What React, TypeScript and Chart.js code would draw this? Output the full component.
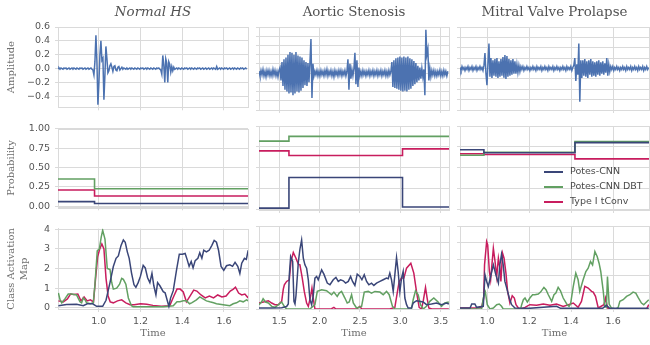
import React, { useEffect, useRef } from 'react';
import { Chart, registerables } from 'chart.js';

Chart.register(...registerables);

// ---------------- text ----------------
const PANEL_TITLES = ['Normal HS', 'Aortic Stenosis', 'Mitral Valve Prolapse'];
const ROW_LABELS: string[][] = [['Amplitude'], ['Probability'], ['Class Activation', 'Map']];
const SERIES_NAMES = ['Potes-CNN', 'Potes-CNN DBT', 'Type I tConv'];
const X_LABEL = 'Time';

// ---------------- axis ranges / ticks ----------------
const TIME_RANGE_NORMAL = [0.805, 1.715];
const TIME_RANGE_AORTIC = [1.249, 3.603];
const TIME_RANGE_MITRAL = [0.87, 1.771];
const TIME_TICKS_NORMAL = [1.0, 1.2, 1.4, 1.6];
const TIME_TICKS_AORTIC = [1.5, 2.0, 2.5, 3.0, 3.5];
const TIME_TICKS_MITRAL = [1.0, 1.2, 1.4, 1.6];

const AMP_RANGE_NORMAL = [-0.558, 0.6];
const AMP_RANGE_AORTIC = [-0.4, 0.5];
const AMP_RANGE_MITRAL = [-0.4, 0.4];
const AMP_TICKS_NORMAL = [-0.4, -0.2, 0, 0.2, 0.4, 0.6];
const AMP_TICKS_AORTIC = [-0.4, -0.3, -0.2, -0.1, 0, 0.1, 0.2, 0.3, 0.4, 0.5];
const AMP_TICKS_MITRAL = [-0.4, -0.3, -0.2, -0.1, 0, 0.1, 0.2, 0.3, 0.4];

const PROB_RANGE = [-0.012, 1.0];
const PROB_TICKS = [0, 0.25, 0.5, 0.75, 1.0];

const CAM_RANGE_NORMAL = [-0.065, 4.03];
const CAM_RANGE_OTHER = [0, 5];
const CAM_TICKS_NORMAL = [0, 1, 2, 3, 4];
const CAM_TICKS_OTHER = [0, 1, 2, 3, 4, 5];

// ---------------- waveforms (amplitude in hundredths, uniform sampling) ----------------
const NORMAL_T0 = 0.805;
const NORMAL_DT = 0.00478;
const NORMAL_AMP = [
  0, 1, -1, 1, 0, -1, 1, 0, 1, -1, 0, 1, -1, 0, 1, -1, 1, 0, -1, 1, 0, -1, 1, 0, 1, -1, 0, 1, -1, 0, 1, -1, 0, 1, -1,
  -2, -9, 10, 48, 10, -52, -20, 20, 40, 12, 15, -45, -10, 32, 15, -6, -3, 4, 7, 2, -4, 3, 4, -2, -3, 2, 3, -2, 0, 2, -1,
  1, 0, -1, 1, -1, 0, 1, -1, 1, 0, -1, 1, 0, -1, 1, 0, -1, 1, 0, 1, -1, 0, 1, -1, 1, 0, -1, 1, 0, -1, 1, 0, -1, 1, 0, 1, -1,
  -2, -8, 19, 5, -20, 14, 8, -20, 10, 6, -5, 3, -3, 2, -1,
  0, 1, -1, 1, 0, -1, 1, 0, -1, 1, 0, 1, -1, 0, 1, -1, 1, 0, -1, 1, 0, -1, 1, 0, 1, -1, 0, 1, -1, 0, 1, -1, 0, 1, -1, 0, 1, -1, 1, 0,
  -1, 3, -1,
  0, 1, -1, 1, 0, -1, 1, 0, 1, -1, 0, 1, -1, 0, 1, -1, 1, 0, -1, 1, 0, -1, 1, 0, 1, -1, 0, 1, -1,
];

const AORTIC_T0 = 1.249;
const AORTIC_DT = 0.01238;
const AORTIC_AMP = [
  2, -3, 3, -2, 4, -3, 2, -4, 3, -2, 3, -3, 2, -3, 4, -2, 3, -3, 2, -4, 3,
  6, -8, 12, -14, 15, -18, 17, -20, 20, -22, 23, -21, 22, -24, 20, -22, 23, -20, 19, -21, 18, -19, 17, -16, 14, -13, 12, -14, 11, -10, 12, 37, -27, 10,
  -3, 2, -2, 3, -3, 2, -3, 3, -2, 2, -3, 3, -2, 4, -3, 2, -2, 3, -3, 2, -4, 3, -2, 2, -3, 3, -2, 3, -3, 2, -2, 3, -3, 2,
  15, -18, 10, -6, 4, -3, 5, 22, -12, 14, -15, 6, -3,
  2, -3, 3, -2, 2, -3, 2, -2, 3, -3, 2, -2, 3, -3, 2, -2, 3, -3, 2, -2, 3, -3, 2, -2, 3, -3, 2, -3, 3, -2, 2,
  12, -15, 14, -16, 16, -17, 17, -18, 18, -19, 17, -20, 18, -19, 17, -20, 18, -18, 16, -17, 15, -14, 13, -12, 11, -10, 8, -8, 6, -6, 5, -4, 4, -24, 47, 20, 26, -8, 5, -4,
  3, -2, 3, -3, 2, -3, 2, -2, 3, -3, 2, -3, 3, -2, 2, -3, 2,
];

const MITRAL_T0 = 0.87;
const MITRAL_DT = 0.00476;
const MITRAL_AMP = [
  1, -2, 2, -1, 1, -2, 1, -1, 2, -2, 1, -1, 2, -2, 1, -1, 2, -2, 1, -1, 2, -1, 1, -2,
  3, 15, -5, -16, 5, 24, -8, 10, -9, 8, -7, 9, -8, 10, -9, 7, -8, 9, -7, 11, -9, 13, -10, 12, -8, 9, -7, 8, -6, 9, -5, 7, -5, 4, -4, 3, -3, 2,
  -1, 2, -2, 1, -1, 2, -1, 1, -2, 1, -1, 2, -1, 1, -2, 2, -1, 1, -1, 2, -2, 1, -1, 2, -1, 1, -2, 2, -1, 1, -1, 2, -2, 1, -1, 2, -1, 1, -2, 1, -1, 2, -1, 1, -2, 2, -1, 1, -1, 2, -2, 1,
  3, 10, -12, 4, -6, 24, -32, 8, -9, 8, -7, 9, -8, 7, -9, 8, -6, 9, -8, 7, -7, 6, -8, 7, -6, 8, -7, 6, -5, 7, -6, 5, -4, 10, -7, 4, -3, 2,
  -1, 2, -2, 1, -1, 2, -1, 1, -2, 1, -1, 2, -1, 1, -2, 2, -1, 1, -1, 2, -2, 1, -1, 2, -1, 1, -2, 2, -1, 1, -1, 2, -2, 1, -1, 2, -1, 1,
];

// ---------------- probabilities [time, value] (step functions) ----------------
const NORMAL_PROB_CNN = [[0.805, 0.061], [0.98, 0.036], [1.715, 0.036]];
const NORMAL_PROB_DBT = [[0.805, 0.352], [0.98, 0.227], [1.715, 0.227]];
const NORMAL_PROB_TCONV = [[0.805, 0.21], [0.98, 0.134], [1.715, 0.134]];
const AORTIC_PROB_CNN = [[1.249, 0.01], [1.62, 0.38], [3.027, 0.024], [3.603, 0.024]];
const AORTIC_PROB_DBT = [[1.249, 0.818], [1.62, 0.875], [3.603, 0.875]];
const AORTIC_PROB_TCONV = [[1.249, 0.7], [1.62, 0.644], [3.027, 0.725], [3.603, 0.725]];
const MITRAL_PROB_CNN = [[0.87, 0.713], [0.984, 0.677], [1.418, 0.8], [1.771, 0.8]];
const MITRAL_PROB_DBT = [[0.87, 0.648], [0.984, 0.684], [1.418, 0.814], [1.771, 0.814]];
const MITRAL_PROB_TCONV = [[0.87, 0.665], [0.984, 0.656], [1.418, 0.604], [1.771, 0.604]];

// ---------------- class activation maps [time, value] ----------------
const NORMAL_CAM_CNN = [
  [0.807, 0.1], [0.846, 0.16], [0.894, 0.18], [0.926, 0.1], [0.945, 0.2], [0.971, 0.2], [0.99, 0.07], [1.019, 0.07],
  [1.035, 0.38], [1.054, 1.28], [1.07, 2.1], [1.083, 2.52], [1.094, 2.64], [1.107, 3.18], [1.118, 3.46], [1.127, 3.34],
  [1.137, 2.85], [1.146, 2.52], [1.157, 1.78], [1.169, 1.17], [1.178, 1.04], [1.189, 1.28], [1.2, 1.61], [1.213, 2.16],
  [1.223, 2.03], [1.234, 1.53], [1.245, 1.28], [1.255, 1.75], [1.264, 1.12], [1.274, 0.66], [1.282, 1.28], [1.293, 1.12],
  [1.309, 0.82], [1.318, 0.76], [1.328, 0.38], [1.336, 0.07], [1.344, 0.49], [1.357, 0.87], [1.373, 1.94], [1.386, 2.73],
  [1.401, 2.73], [1.414, 2.77], [1.424, 2.44], [1.433, 2.11], [1.443, 2.36], [1.452, 2.03], [1.462, 2.4], [1.475, 2.52],
  [1.484, 2.8], [1.494, 2.52], [1.503, 2.93], [1.516, 2.85], [1.529, 2.93], [1.542, 3.18], [1.553, 3.43], [1.564, 3.34],
  [1.574, 2.93], [1.586, 2.11], [1.599, 1.91], [1.612, 2.14], [1.628, 2.19], [1.641, 2.11], [1.653, 2.31], [1.666, 2.11],
  [1.676, 1.75], [1.685, 2.27], [1.698, 2.52], [1.707, 2.47], [1.716, 2.93],
];
const NORMAL_CAM_DBT = [
  [0.807, 0.75], [0.815, 0.4], [0.823, 0.25], [0.838, 0.45], [0.854, 0.7], [0.87, 0.7], [0.894, 0.65], [0.91, 0.3],
  [0.918, 0.25], [0.926, 0.5], [0.935, 0.4], [0.942, 0.25], [0.96, 0.2], [0.974, 0.25], [0.982, 1.2], [0.993, 2.9],
  [1.003, 3.0], [1.012, 3.6], [1.019, 3.95], [1.03, 3.5], [1.041, 2.0], [1.054, 1.95], [1.062, 1.3], [1.07, 0.95],
  [1.086, 1.0], [1.1, 1.2], [1.11, 1.5], [1.118, 1.45], [1.13, 1.2], [1.142, 0.5], [1.157, 0.1], [1.165, 0.05],
  [1.2, 0.05], [1.25, 0.05], [1.309, 0.05], [1.357, 0.1], [1.375, 0.3], [1.389, 0.3], [1.405, 0.35], [1.421, 0.35],
  [1.435, 0.2], [1.445, 0.25], [1.468, 0.4], [1.484, 0.55], [1.5, 0.45], [1.516, 0.35], [1.532, 0.3], [1.55, 0.25],
  [1.564, 0.2], [1.596, 0.15], [1.628, 0.1], [1.644, 0.2], [1.66, 0.25], [1.676, 0.35], [1.692, 0.3], [1.708, 0.4], [1.716, 0.35],
];
const NORMAL_CAM_TCONV = [
  [0.807, 0.35], [0.83, 0.3], [0.85, 0.45], [0.865, 0.7], [0.88, 0.68], [0.9, 0.7], [0.915, 0.35], [0.93, 0.55],
  [0.945, 0.35], [0.96, 0.4], [0.975, 0.3], [0.985, 1.5], [0.995, 2.6], [1.005, 3.0], [1.015, 3.25], [1.025, 3.0],
  [1.035, 1.5], [1.045, 0.6], [1.055, 0.3], [1.07, 0.25], [1.09, 0.35], [1.11, 0.4], [1.13, 0.25], [1.15, 0.15],
  [1.17, 0.15], [1.2, 0.2], [1.23, 0.18], [1.26, 0.12], [1.3, 0.07], [1.34, 0.1], [1.36, 0.6], [1.375, 0.95],
  [1.39, 0.95], [1.405, 0.8], [1.42, 0.3], [1.435, 0.55], [1.455, 0.9], [1.47, 0.85], [1.49, 0.65], [1.51, 0.5],
  [1.53, 0.6], [1.55, 0.5], [1.57, 0.65], [1.59, 0.55], [1.61, 0.6], [1.63, 0.85], [1.645, 0.95], [1.655, 1.05],
  [1.67, 0.75], [1.685, 0.65], [1.7, 0.7], [1.716, 0.5],
];

const AORTIC_CAM_CNN = [
  [1.249, 0.06], [1.406, 0.06], [1.53, 0.08], [1.591, 0.15], [1.612, 0.3], [1.624, 2.0], [1.641, 3.16], [1.666, 2.86],
  [1.682, 0.46], [1.695, 0.3], [1.707, 0.8], [1.736, 2.8], [1.756, 3.6], [1.777, 4.16], [1.798, 3.06], [1.818, 2.66],
  [1.839, 2.46], [1.86, 1.76], [1.88, 0.56], [1.901, 0.26], [1.921, 0.8], [1.942, 1.86], [1.963, 1.96], [1.983, 1.76],
  [2.025, 2.36], [2.053, 2.1], [2.095, 1.56], [2.128, 1.46], [2.169, 1.76], [2.202, 1.9], [2.231, 1.66], [2.26, 1.76],
  [2.293, 1.7], [2.322, 1.56], [2.355, 1.66], [2.384, 1.96], [2.408, 1.66], [2.437, 1.42], [2.466, 2.1], [2.499, 1.96],
  [2.524, 1.76], [2.553, 2.06], [2.582, 1.66], [2.61, 1.46], [2.643, 1.56], [2.672, 1.42], [2.705, 1.56], [2.747, 1.66],
  [2.788, 1.76], [2.829, 1.86], [2.85, 1.82], [2.87, 2.16], [2.891, 1.76], [2.912, 1.06], [2.932, 2.06], [2.953, 3.1],
  [2.973, 2.26], [2.994, 1.06], [3.015, 1.86], [3.035, 2.26], [3.056, 0.66], [3.077, 0.26], [3.097, 0.06], [3.138, 0.06],
  [3.159, 0.36], [3.2, 0.5], [3.283, 0.42], [3.324, 0.26], [3.386, 0.3], [3.448, 0.36], [3.51, 0.26], [3.572, 0.36], [3.601, 0.3],
];
const AORTIC_CAM_DBT = [
  [1.249, 0.26], [1.28, 0.42], [1.3, 0.62], [1.33, 0.42], [1.365, 0.36], [1.406, 0.16], [1.447, 0.1], [1.49, 0.26],
  [1.53, 0.42], [1.57, 0.1], [1.591, 0.0], [1.88, 0.0], [1.942, 0.26], [1.971, 1.06], [2.025, 1.16], [2.086, 1.1],
  [2.148, 0.86], [2.177, 1.02], [2.218, 0.76], [2.243, 0.96], [2.272, 1.06], [2.313, 0.66], [2.342, 0.36], [2.367, 0.42],
  [2.396, 0.86], [2.417, 0.36], [2.458, 0.06], [2.52, 0.16], [2.553, 1.02], [2.602, 1.06], [2.643, 0.96], [2.685, 1.06],
  [2.747, 1.02], [2.788, 0.86], [2.829, 1.06], [2.862, 0.86], [2.903, 0.16], [2.932, 0.0], [3.138, 0.0], [3.159, 0.56],
  [3.188, 1.1], [3.221, 0.86], [3.25, 0.26], [3.283, 0.0], [3.324, 0.16], [3.365, 0.46], [3.415, 0.66], [3.468, 0.42],
  [3.51, 0.16], [3.551, 0.36], [3.601, 0.42],
];
const AORTIC_CAM_TCONV = [
  [1.249, 0.36], [1.303, 0.42], [1.365, 0.5], [1.406, 0.36], [1.447, 0.26], [1.488, 0.26], [1.53, 0.46], [1.55, 1.2],
  [1.563, 1.46], [1.591, 1.66], [1.624, 1.76], [1.645, 2.86], [1.674, 3.4], [1.707, 3.06], [1.736, 2.7], [1.756, 2.66],
  [1.785, 1.86], [1.81, 1.06], [1.839, 0.36], [1.86, 0.16], [1.888, 0.76], [1.905, 1.26], [1.921, 0.66], [1.942, 0.0],
  [2.148, 0.02], [2.177, 0.1], [2.202, 0.0], [2.458, 0.0], [2.499, 0.16], [2.52, 0.0], [2.87, 0.0], [2.932, 0.1],
  [2.973, 1.3], [2.986, 1.66], [3.015, 1.86], [3.044, 1.86], [3.077, 2.46], [3.13, 2.76], [3.167, 2.16], [3.2, 1.06],
  [3.233, 0.1], [3.262, 0.0], [3.283, 0.46], [3.312, 1.3], [3.332, 0.66], [3.353, 0.06], [3.39, 0.0], [3.601, 0.0],
];

const MITRAL_CAM_CNN = [
  [0.87, 0.06], [0.918, 0.06], [0.926, 0.3], [0.941, 0.3], [0.949, 0.1], [0.981, 0.16], [0.989, 2.06], [0.997, 1.66],
  [1.005, 1.36], [1.016, 1.96], [1.029, 2.66], [1.041, 2.06], [1.053, 1.56], [1.06, 2.66], [1.068, 3.3], [1.076, 2.66],
  [1.084, 1.66], [1.097, 1.06], [1.105, 0.66], [1.116, 0.26], [1.132, 0.06], [1.2, 0.04], [1.33, 0.16], [1.35, 0.04],
  [1.55, 0.04], [1.568, 0.22], [1.584, 0.04], [1.77, 0.04],
];
const MITRAL_CAM_DBT = [
  [0.87, 0.0], [0.973, 0.0], [0.981, 0.66], [0.991, 1.02], [1.0, 0.26], [1.013, 0.0], [1.029, 0.06], [1.045, 0.26],
  [1.057, 0.3], [1.068, 0.16], [1.076, 0.0], [1.159, 0.0], [1.164, 0.26], [1.172, 0.56], [1.18, 0.66], [1.191, 0.42],
  [1.203, 0.66], [1.216, 0.86], [1.227, 0.86], [1.243, 0.9], [1.254, 1.02], [1.27, 1.3], [1.28, 1.16], [1.291, 0.86],
  [1.307, 0.46], [1.318, 0.86], [1.327, 0.96], [1.338, 1.3], [1.349, 1.1], [1.362, 0.66], [1.381, 0.26], [1.39, 0.16],
  [1.397, 0.3], [1.41, 1.36], [1.422, 2.16], [1.433, 1.76], [1.441, 1.06], [1.457, 1.76], [1.47, 2.26], [1.481, 2.46],
  [1.492, 2.86], [1.502, 2.66], [1.513, 3.46], [1.524, 3.16], [1.533, 2.76], [1.541, 2.26], [1.553, 1.06], [1.56, 0.16],
  [1.568, 0.1], [1.573, 1.96], [1.581, 0.3], [1.592, 0.06], [1.613, 0.0], [1.624, 0.1], [1.632, 0.46], [1.648, 0.56],
  [1.664, 0.76], [1.68, 0.86], [1.695, 1.02], [1.708, 0.96], [1.719, 0.7], [1.735, 0.36], [1.746, 0.26], [1.759, 0.42], [1.77, 0.56],
];
const MITRAL_CAM_TCONV = [
  [0.87, 0.06], [0.918, 0.06], [0.949, 0.06], [0.973, 0.1], [0.983, 0.66], [0.987, 2.66], [0.997, 4.06], [1.002, 3.86],
  [1.01, 2.26], [1.016, 1.76], [1.029, 3.66], [1.037, 2.86], [1.045, 1.96], [1.053, 3.06], [1.06, 2.46], [1.065, 1.66],
  [1.073, 3.36], [1.08, 3.06], [1.089, 2.16], [1.097, 1.06], [1.108, 0.36], [1.119, 0.8], [1.129, 0.66], [1.137, 0.26],
  [1.148, 0.06], [1.159, 0.0], [1.18, 0.1], [1.203, 0.26], [1.235, 0.22], [1.267, 0.3], [1.299, 0.22], [1.33, 0.3],
  [1.362, 0.16], [1.41, 0.36], [1.433, 0.1], [1.449, 0.46], [1.465, 1.36], [1.481, 1.26], [1.497, 1.06], [1.505, 1.02],
  [1.516, 0.76], [1.529, 0.06], [1.556, 0.26], [1.564, 0.66], [1.573, 0.06], [1.584, 0.0], [1.759, 0.0], [1.77, 0.26],
];

// ---------------- styles ----------------
const GRID = '#dadada';
const TICK_COLOR = '#555555';
const LABEL_COLOR = '#6e6e6e';
const TITLE_COLOR = '#525252';
const WAVE_COLOR = '#4c72b0';
const SERIES_COLORS = ['#3a4678', '#62a062', '#c81d5e'];
const SANS = 'DejaVu Sans';
const SERIF = 'DejaVu Serif';

type XY = { x: number; y: number };
const pairs = (p: number[][]): XY[] => p.map(([x, y]) => ({ x, y }));
const sampled = (t0: number, dt: number, v: number[]): XY[] => v.map((a, i) => ({ x: t0 + i * dt, y: a / 100 }));

const COLUMNS = [
  {
    title: PANEL_TITLES[0], italic: true, time: TIME_RANGE_NORMAL, timeTicks: TIME_TICKS_NORMAL,
    wave: sampled(NORMAL_T0, NORMAL_DT, NORMAL_AMP), ampRange: AMP_RANGE_NORMAL, ampTicks: AMP_TICKS_NORMAL,
    prob: [NORMAL_PROB_CNN, NORMAL_PROB_DBT, NORMAL_PROB_TCONV],
    cam: [NORMAL_CAM_CNN, NORMAL_CAM_DBT, NORMAL_CAM_TCONV], camRange: CAM_RANGE_NORMAL, camTicks: CAM_TICKS_NORMAL,
  },
  {
    title: PANEL_TITLES[1], italic: false, time: TIME_RANGE_AORTIC, timeTicks: TIME_TICKS_AORTIC,
    wave: sampled(AORTIC_T0, AORTIC_DT, AORTIC_AMP), ampRange: AMP_RANGE_AORTIC, ampTicks: AMP_TICKS_AORTIC,
    prob: [AORTIC_PROB_CNN, AORTIC_PROB_DBT, AORTIC_PROB_TCONV],
    cam: [AORTIC_CAM_CNN, AORTIC_CAM_DBT, AORTIC_CAM_TCONV], camRange: CAM_RANGE_OTHER, camTicks: CAM_TICKS_OTHER,
  },
  {
    title: PANEL_TITLES[2], italic: false, time: TIME_RANGE_MITRAL, timeTicks: TIME_TICKS_MITRAL,
    wave: sampled(MITRAL_T0, MITRAL_DT, MITRAL_AMP), ampRange: AMP_RANGE_MITRAL, ampTicks: AMP_TICKS_MITRAL,
    prob: [MITRAL_PROB_CNN, MITRAL_PROB_DBT, MITRAL_PROB_TCONV],
    cam: [MITRAL_CAM_CNN, MITRAL_CAM_DBT, MITRAL_CAM_TCONV], camRange: CAM_RANGE_OTHER, camTicks: CAM_TICKS_OTHER,
  },
];

// plot-area geometry (pixels)
const COL_X = [[58, 248], [259, 449], [460, 649]];
const ROW_Y = [[27, 110], [126, 210], [226, 309]];

const fmtAmp = (v: number) => (Math.abs(v) < 1e-9 ? '0.0' : v.toFixed(1)).replace('-', '\u2212');

const framePlugin = {
  id: 'frame',
  beforeDatasetsDraw(chart: any) {
    const { ctx, chartArea: a } = chart;
    ctx.save();
    ctx.strokeStyle = GRID;
    ctx.lineWidth = 1;
    ctx.strokeRect(Math.round(a.left) + 0.5, Math.round(a.top) + 0.5, Math.round(a.right - a.left), Math.round(a.bottom - a.top));
    ctx.restore();
  },
};

const titlePlugin = (text: string, italic: boolean) => ({
  id: 'panelTitle',
  afterDraw(chart: any) {
    const { ctx, chartArea: a } = chart;
    ctx.save();
    ctx.font = `${italic ? 'italic ' : ''}13.4px "${SERIF}"`;
    ctx.fillStyle = TITLE_COLOR;
    ctx.textAlign = 'center';
    ctx.textBaseline = 'middle';
    ctx.fillText(text, (a.left + a.right) / 2, a.top - 14);
    ctx.restore();
  },
});

const legendPlugin = {
  id: 'panelLegend',
  afterDraw(chart: any) {
    const { ctx, chartArea: a } = chart;
    ctx.save();
    ctx.font = `9.5px "${SANS}"`;
    ctx.textBaseline = 'middle';
    ctx.textAlign = 'left';
    SERIES_NAMES.forEach((name, i) => {
      const y = a.bottom - 38 + i * 15;
      ctx.strokeStyle = SERIES_COLORS[i];
      ctx.lineWidth = 2;
      ctx.beginPath();
      ctx.moveTo(a.right - 105, y);
      ctx.lineTo(a.right - 86, y);
      ctx.stroke();
      ctx.fillStyle = '#4a4a4a';
      ctx.fillText(name, a.right - 79, y);
    });
    ctx.restore();
  },
};

function buildCell(r: number, c: number) {
  const col = COLUMNS[c];
  const yw = c === 0 ? 58 : 8;
  const pt = r === 0 ? 27 : 8;
  const pr = c === 2 ? 1 : 6;
  const xh = r === 2 ? 30 : 4;
  const pb = r === 2 ? 0 : 4;
  const geom = {
    left: COL_X[c][0] - yw,
    top: ROW_Y[r][0] - pt,
    width: yw + (COL_X[c][1] - COL_X[c][0]) + pr,
    height: pt + (ROW_Y[r][1] - ROW_Y[r][0]) + xh + pb,
  };

  let datasets: any[];
  let yRange: number[];
  let yTicks: number[];
  let yFmt: (v: number) => string;
  if (r === 0) {
    datasets = [{ data: col.wave, borderColor: WAVE_COLOR, borderWidth: 1.5 }];
    yRange = col.ampRange; yTicks = col.ampTicks; yFmt = fmtAmp;
  } else if (r === 1) {
    datasets = col.prob.map((p, i) => ({ data: pairs(p), borderColor: SERIES_COLORS[i], borderWidth: 1.6, stepped: true, label: SERIES_NAMES[i] }));
    yRange = PROB_RANGE; yTicks = PROB_TICKS; yFmt = (v) => v.toFixed(2);
  } else {
    datasets = col.cam.map((p, i) => ({ data: pairs(p), borderColor: SERIES_COLORS[i], borderWidth: 1.5, label: SERIES_NAMES[i] }));
    yRange = col.camRange; yTicks = col.camTicks; yFmt = (v) => String(v);
  }
  datasets = datasets.map((d) => ({ ...d, pointRadius: 0, fill: false, tension: 0 }));

  const tickFont = { family: SANS, size: 9.5 };
  const plugins: any[] = [framePlugin];
  if (r === 0) plugins.push(titlePlugin(col.title, col.italic));
  if (r === 1 && c === 2) plugins.push(legendPlugin);

  const config: any = {
    type: 'line',
    data: { datasets },
    options: {
      responsive: false,
      animation: false,
      events: [],
      layout: { padding: { left: 0, top: pt, right: pr, bottom: pb } },
      plugins: { legend: { display: false }, tooltip: { enabled: false }, title: { display: false } },
      scales: {
        x: {
          type: 'linear',
          bounds: 'data',
          min: col.time[0],
          max: col.time[1],
          afterBuildTicks: (s: any) => { s.ticks = col.timeTicks.map((v) => ({ value: v })); },
          afterFit: (s: any) => { s.height = xh; },
          grid: { color: GRID, tickColor: GRID, tickLength: 3, lineWidth: 1 },
          border: { color: GRID },
          ticks: { display: r === 2, autoSkip: false, maxRotation: 0, padding: 4, color: TICK_COLOR, font: tickFont, callback: (v: any) => Number(v).toFixed(1) },
          title: { display: r === 2, text: X_LABEL, color: LABEL_COLOR, font: { family: SERIF, size: 10 }, padding: { top: 0, bottom: 0 } },
        },
        y: {
          type: 'linear',
          bounds: 'data',
          min: yRange[0],
          max: yRange[1],
          afterBuildTicks: (s: any) => { s.ticks = yTicks.map((v) => ({ value: v })); },
          afterFit: (s: any) => { s.width = yw; },
          grid: { color: GRID, tickColor: GRID, tickLength: 3, lineWidth: 1 },
          border: { color: GRID },
          ticks: { display: c === 0, autoSkip: false, padding: 5, color: TICK_COLOR, font: tickFont, callback: (v: any) => yFmt(Number(v)) },
          title: {
            display: c === 0,
            text: ROW_LABELS[r],
            color: LABEL_COLOR,
            font: { family: SERIF, size: 10, lineHeight: 1.3 },
            padding: { top: 5, bottom: 0 },
          },
        },
      },
    },
    plugins,
  };
  return { geom, config };
}

const CELLS = [0, 1, 2].flatMap((r) => [0, 1, 2].map((c) => buildCell(r, c)));

export default function App() {
  const refs = useRef<(HTMLCanvasElement | null)[]>([]);
  useEffect(() => {
    const charts = CELLS.map((cell, i) => new Chart(refs.current[i] as HTMLCanvasElement, cell.config));
    return () => charts.forEach((ch) => ch.destroy());
  }, []);
  return (
    <div style={{ position: 'fixed', left: 0, top: 0, width: 650, height: 345, background: '#ffffff', overflow: 'hidden' }}>
      {CELLS.map((cell, i) => (
        <canvas
          key={i}
          ref={(el) => { refs.current[i] = el; }}
          width={cell.geom.width}
          height={cell.geom.height}
          style={{ position: 'absolute', left: cell.geom.left, top: cell.geom.top, width: cell.geom.width, height: cell.geom.height }}
        />
      ))}
    </div>
  );
}
